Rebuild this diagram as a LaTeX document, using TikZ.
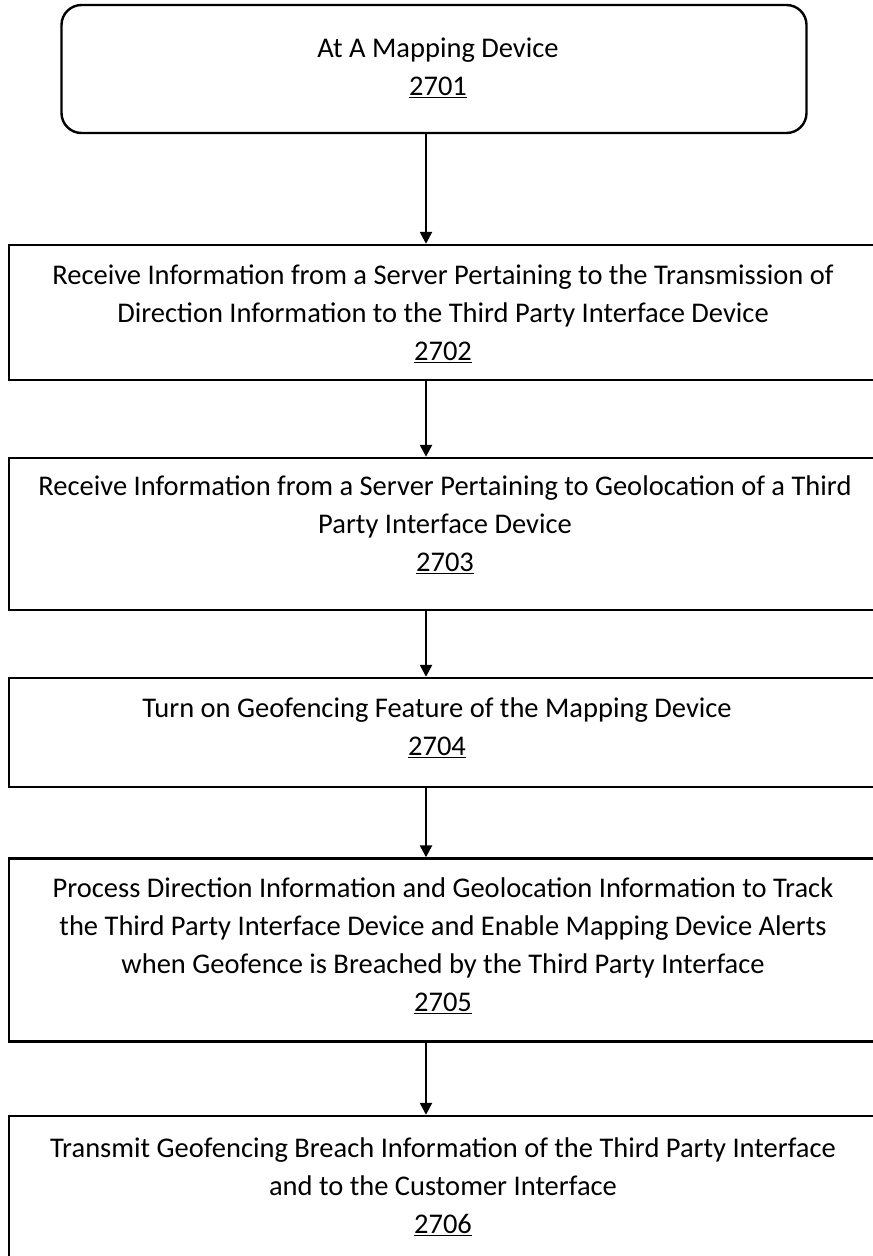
\documentclass[tikz,border=0pt]{standalone}
\usepackage{fontspec}
\setmainfont{Carlito}
\usetikzlibrary{arrows.meta}
\begin{document}
\begin{tikzpicture}[x=1pt,y=-1pt,
  box/.style={draw=black,line width=2.4pt,rectangle,inner sep=0pt},
  rbox/.style={box,rounded corners=20pt},
  txt/.style={align=center,inner sep=0pt,font=\fontsize{28.5}{38}\selectfont},
  arr/.style={draw=black,line width=2.4pt,-{Triangle[length=12pt,width=12pt]}}]
\useasboundingbox (0,0) rectangle (873,1256);
\coordinate (ax) at (426,0);
% boxes
\node[rbox,minimum width=745pt,minimum height=128pt] (b1) at (434,69) {};
\node[box,minimum width=872pt,minimum height=135pt] (b2) at (445,312.5) {};
\node[box,minimum width=872pt,minimum height=152pt] (b3) at (445,534) {};
\node[box,minimum width=872pt,minimum height=109pt] (b4) at (445,732.5) {};
\node[box,minimum width=872pt,minimum height=183pt] (b5) at (445,950) {};
\node[box,minimum width=872pt,minimum height=200pt] (b6) at (445,1216) {};
% texts
\node[txt] (t1) at (438,68) {At A Mapping Device\\\underline{2701}};
\node[txt] (t2) at (443,314) {Receive Information from a Server Pertaining to the Transmission of\\Direction Information to the Third Party Interface Device\\\underline{2702}};
\node[txt] (t3) at (445,525) {Receive Information from a Server Pertaining to Geolocation of a Third\\Party Interface Device\\\underline{2703}};
\node[txt] (t4) at (437,728) {Turn on Geofencing Feature of the Mapping Device\\\underline{2704}};
\node[txt] (t5) at (443,946) {Process Direction Information and Geolocation Information to Track\\the Third Party Interface Device and Enable Mapping Device Alerts\\when Geofence is Breached by the Third Party Interface\\\underline{2705}};
\node[txt] (t6) at (443,1187) {Transmit Geofencing Breach Information of the Third Party Interface\\and to the Customer Interface\\\underline{2706}};
% arrows
\draw[arr] (b1.south -| ax) -- (b2.north -| ax);
\draw[arr] (b2.south -| ax) -- (b3.north -| ax);
\draw[arr] (b3.south -| ax) -- (b4.north -| ax);
\draw[arr] (b4.south -| ax) -- (b5.north -| ax);
\draw[arr] (b5.south -| ax) -- (b6.north -| ax);
\end{tikzpicture}
\end{document}
